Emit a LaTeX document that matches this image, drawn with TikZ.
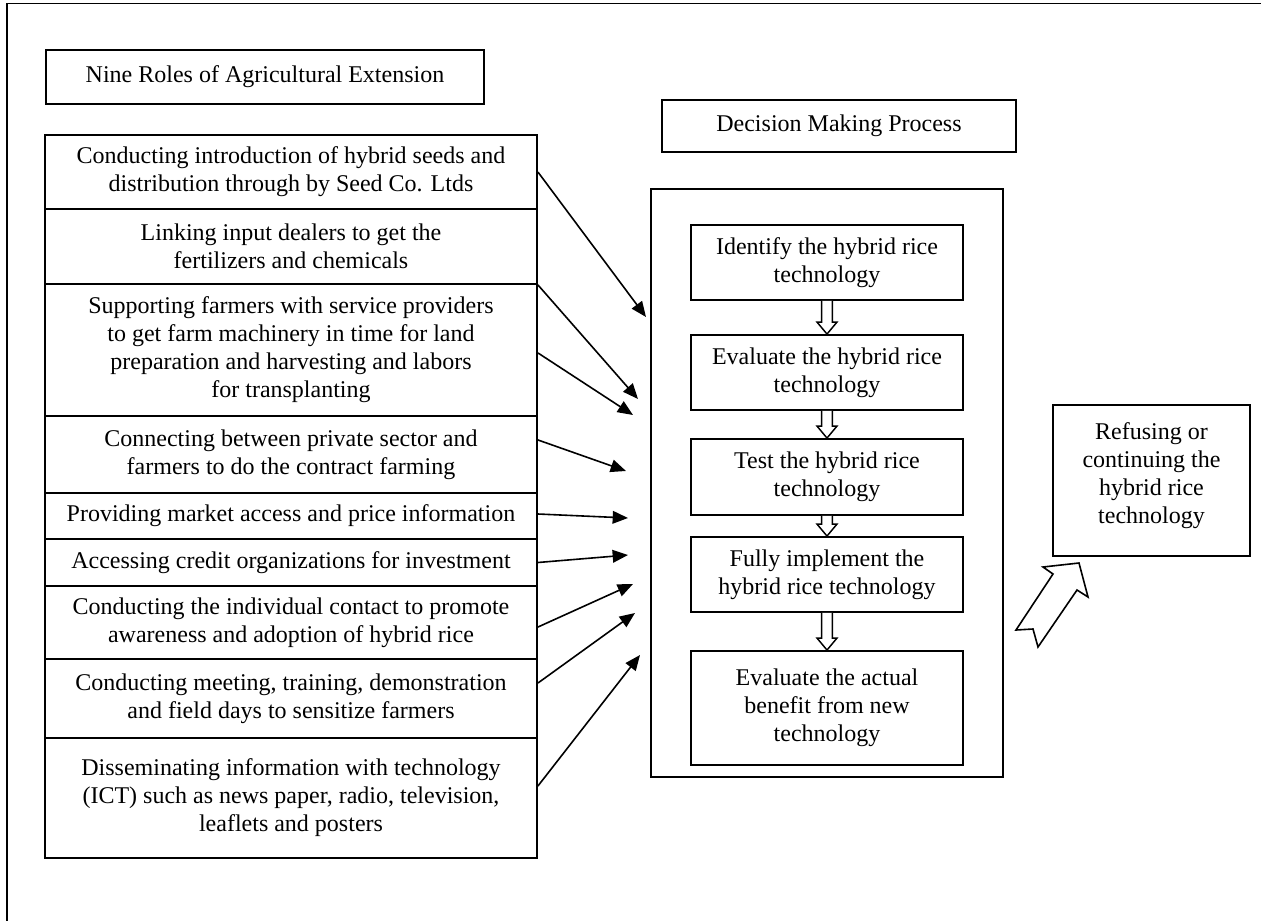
\documentclass[tikz,border=0pt]{standalone}
\usepackage{fontspec}
\setmainfont{Liberation Serif}
\usetikzlibrary{arrows.meta,calc}
\tikzset{
  box/.style={draw, line width=1.4pt, inner sep=0pt, align=center, font=\fontsize{18pt}{21pt}\selectfont},
  conn/.style={line width=1.2pt, -{Triangle[length=11.5pt,width=9.5pt]}},
  hollow/.style={line width=1.1pt, fill=white},
  frame/.style={line width=1.4pt}
}
\newcommand{\hollowdown}[2]{%
  \draw[hollow] let \p1=(#1.south), \p2=(#2.north) in
    (\x1-4.1pt,\y1) -- (\x1-4.1pt,\y2+9pt) -- (\x1-7.5pt,\y2+9pt) -- (\x1,\y2)
    -- (\x1+7.5pt,\y2+9pt) -- (\x1+4.1pt,\y2+9pt) -- (\x1+4.1pt,\y1);}
\begin{document}
\begin{tikzpicture}[x=0.75pt,y=-0.75pt]
\useasboundingbox (0,0) rectangle (1261,921);
% page frame (top and left edges)
\coordinate (ftl) at (7,3.5);
\coordinate (ftr) at (1262,3.5);
\coordinate (fbl) at (7,922);
\draw[frame] (ftr) -- (ftl) -- (fbl);

% titles
\node[box, minimum width=328.5pt, minimum height=40.5pt] (title) at (265,77) {Nine Roles of Agricultural Extension};
\node[box, minimum width=265.5pt, minimum height=39pt] (dtitle) at (839,126) {Decision Making Process};

% left column
\node[box, minimum width=369pt, minimum height=55.5pt] (r1) at (291,172) {Conducting introduction of hybrid seeds and\\distribution through by Seed Co. Ltds};
\node[box, minimum width=369pt, minimum height=56.25pt] (r2) at (291,246.5) {Linking input dealers to get the\\fertilizers and chemicals};
\node[box, minimum width=369pt, minimum height=99pt] (r3) at (291,350) {Supporting farmers with service providers\\to get farm machinery in time for land\\preparation and harvesting and labors\\for transplanting};
\node[box, minimum width=369pt, minimum height=57.75pt] (r4) at (291,454.5) {Connecting between private sector and\\farmers to do the contract farming};
\node[box, minimum width=369pt, minimum height=34.5pt] (r5) at (291,516) {Providing market access and price information};
\node[box, minimum width=369pt, minimum height=35.25pt] (r6) at (291,562.5) {Accessing credit organizations for investment};
\node[box, minimum width=369pt, minimum height=54.75pt] (r7) at (291,622.5) {Conducting the individual contact to promote\\awareness and adoption of hybrid rice};
\node[box, minimum width=369pt, minimum height=59.25pt] (r8) at (291,698.5) {Conducting meeting, training, demonstration\\and field days to sensitize farmers};
\node[box, minimum width=369pt, minimum height=90pt] (r9) at (291,798) {Disseminating information with technology\\(ICT) such as news paper, radio, television,\\leaflets and posters};

% decision process container
\node[box, minimum width=264pt, minimum height=441pt] (dmp) at (827,483) {};
\node[box, minimum width=204pt, minimum height=56.25pt] (s1) at (827,262.5) {Identify the hybrid rice\\technology};
\node[box, minimum width=204pt, minimum height=56.25pt] (s2) at (827,372.5) {Evaluate the hybrid rice\\technology};
\node[box, minimum width=204pt, minimum height=57pt] (s3) at (827,477) {Test the hybrid rice\\technology};
\node[box, minimum width=204pt, minimum height=56.25pt] (s4) at (827,574.5) {Fully implement the\\hybrid rice technology};
\node[box, minimum width=204pt, minimum height=85.5pt] (s5) at (827,708) {Evaluate the actual\\benefit from new\\technology};

\hollowdown{s1}{s2}
\hollowdown{s2}{s3}
\hollowdown{s3}{s4}
\hollowdown{s4}{s5}

% outcome
\node[box, minimum width=147.75pt, minimum height=113.25pt] (out) at (1151.5,480.5) {Refusing or\\continuing the\\hybrid rice\\technology\rule[-11pt]{0pt}{11pt}};

% big hollow arrow
\draw[hollow, line width=1.2pt] (1079,563) -- (1043,567) -- (1053,574) -- (1016,630) -- (1033,629)
  -- (1038,647) -- (1077,590) -- (1088,597) -- cycle;

% arrow targets
\coordinate (t1) at (646,317);
\coordinate (t2) at (638,399);
\coordinate (t3) at (633,415);
\coordinate (t4) at (626,471);
\coordinate (t5) at (628,518);
\coordinate (t6) at (628,555);
\coordinate (t7) at (633,584);
\coordinate (t8) at (635,613);
\coordinate (t9) at (640,655);

\draw[conn] (r1.east) -- (t1);
\draw[conn] (r2.south east) -- (t2);
\draw[conn] ([yshift=-2.2pt]r3.east) -- (t3);
\draw[conn] ([yshift=10.9pt]r4.east) -- (t4);
\draw[conn] ([yshift=1.5pt]r5.east) -- (t5);
\draw[conn] (r6.east) -- (t6);
\draw[conn] ([yshift=-3.4pt]r7.east) -- (t7);
\draw[conn] ([yshift=11.6pt]r8.east) -- (t8);
\draw[conn] ([yshift=9pt]r9.east) -- (t9);
\end{tikzpicture}
\end{document}
